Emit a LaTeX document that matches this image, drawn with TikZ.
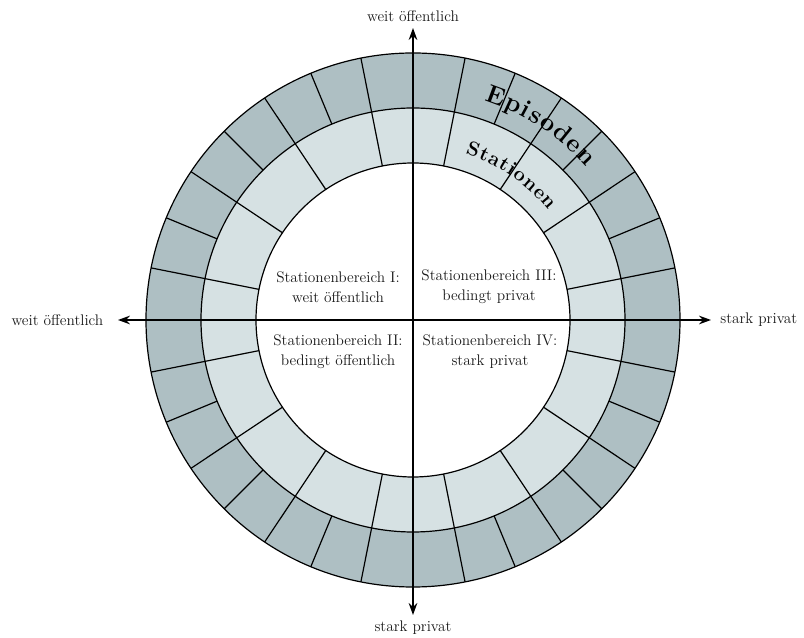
\documentclass[tikz,border=0pt]{standalone}
\usepackage{fontspec}
\usepackage{tikz}
\usetikzlibrary{arrows.meta,positioning,decorations.text}
\definecolor{episode}{RGB}{174,191,195}
\definecolor{station}{RGB}{214,225,227}

\begin{document}
\begin{tikzpicture}[x=0.75pt,y=0.75pt,
  ringline/.style={line width=0.9pt},
  axis/.style={line width=0.9pt,{Stealth[length=9pt,width=6.5pt]}-{Stealth[length=9pt,width=6.5pt]}},
  region/.style={align=center,font=\fontsize{11.5}{15}\selectfont,text=black!90},
  axislabel/.style={font=\fontsize{11.5}{14}\selectfont,text=black!90}]
\useasboundingbox (-413,-318) rectangle (391,320);
\fill[episode] (0,0) circle[radius=267];
\fill[station] (0,0) circle[radius=212];
\fill[white] (0,0) circle[radius=157];
\draw[ringline] (0,0) circle[radius=267] (0,0) circle[radius=212] (0,0) circle[radius=157];
\foreach \a in {0,11.25,...,349} \draw[ringline] (\a:212) -- (\a:267);
\foreach \a in {11.25,33.75,...,349} \draw[ringline] (\a:157) -- (\a:212);
\coordinate (W) at (-295,0);
\coordinate (E) at (298,0);
\coordinate (N) at (0,292);
\coordinate (S) at (0,-295);
\draw[axis] (W) -- (E);
\draw[axis] (S) -- (N);
\node[axislabel,left=7.5pt of W] (lblW) {weit öffentlich};
\node[axislabel,right=3.5pt of E] (lblE) {stark privat};
\node[axislabel,above=1pt of N] (lblN) {weit öffentlich};
\node[axislabel,below=1pt of S] (lblS) {stark privat};
\node[region] (q1) at (-75,33) {Stationenbereich I:\\weit öffentlich};
\node[region] (q3) at (76,33) {Stationenbereich III:\\bedingt privat};
\node[region] (q2) at (-75,-32) {Stationenbereich II:\\bedingt öffentlich};
\node[region] (q4) at (77,-32) {Stationenbereich IV:\\stark privat};
\path[decorate,decoration={text along path,text align={fit to path},
  text={|\fontsize{19}{21}\selectfont\bfseries|Episoden}}]
  (72:231) arc[start angle=72,end angle=41.5,radius=231];
\path[decorate,decoration={text along path,text align={fit to path},
  text={|\fontsize{15}{17}\selectfont\bfseries|Stationen}}]
  (72.5:174) arc[start angle=72.5,end angle=39,radius=174];
\end{tikzpicture}
\end{document}
